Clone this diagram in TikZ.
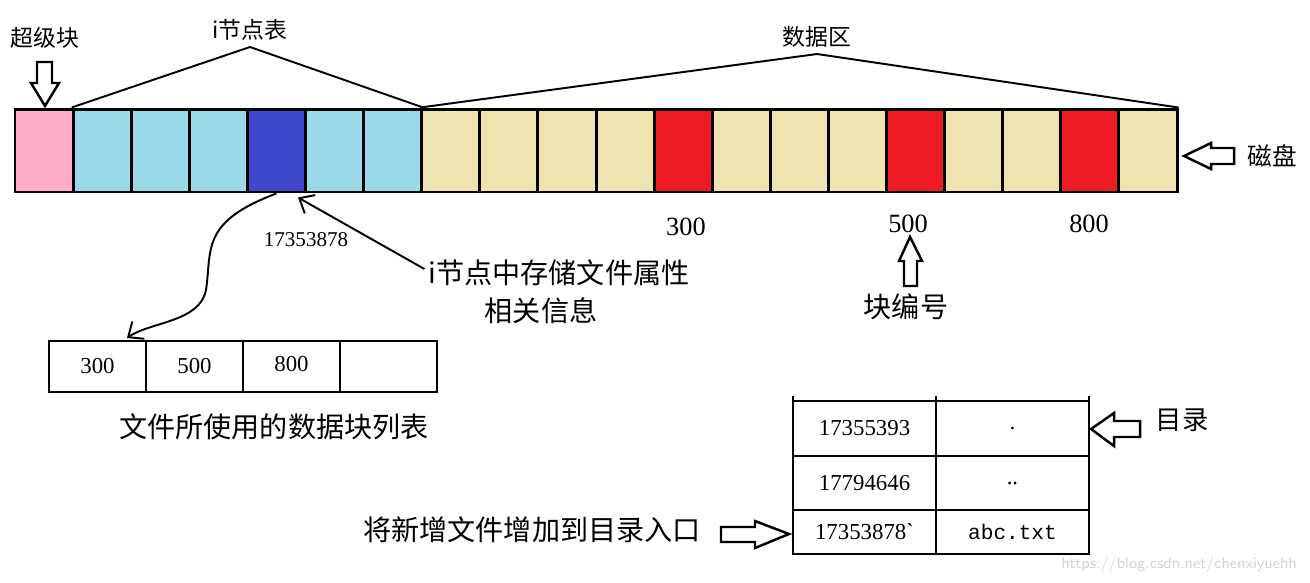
\documentclass[tikz,border=0pt]{standalone}
\usepackage{fontspec}
\setmainfont{Liberation Serif}
\setmonofont{Liberation Mono}
\newfontfamily\cjk{Noto Sans CJK SC}
\usetikzlibrary{arrows.meta, positioning, calc}
\definecolor{superColor}{HTML}{FFAEC9}
\definecolor{inodeColor}{HTML}{99D9EA}
\definecolor{curColor}{HTML}{3F48CC}
\definecolor{dataColor}{HTML}{EFE4B0}
\definecolor{usedColor}{HTML}{ED1C24}

\tikzset{
  cell/.style={draw, line width=1.7pt, minimum width=1.162cm, minimum height=1.66cm, inner sep=0pt},
  lcell/.style={draw, line width=1.6pt, outer sep=0pt, minimum width=1.94cm, minimum height=1.02cm, inner sep=0pt, font=\fontsize{13}{15}\selectfont},
  dcell/.style={draw, line width=1.6pt, outer sep=0pt, inner sep=0pt, font=\fontsize{13}{15}\selectfont},
  fatarr/.style={draw, line width=1.4pt, fill=white, line join=miter},
  span/.style={line width=1.1pt},
  conn/.style={line width=1.1pt, -{Straight Barb[length=7pt, width=12pt]}},
  cn/.style={font=\cjk\fontsize{16}{18}\selectfont},
  cnsmall/.style={font=\cjk\fontsize{13}{15}\selectfont},
}

\begin{document}
\begin{tikzpicture}[x=0.02cm, y=-0.02cm]
    \useasboundingbox (0,0) rectangle (1310,582);

    % Disk strip
    \foreach \col [count=\i from 0] in {superColor, inodeColor, inodeColor, inodeColor, curColor, inodeColor, inodeColor,
        dataColor, dataColor, dataColor, dataColor, usedColor, dataColor, dataColor, dataColor, usedColor,
        dataColor, dataColor, usedColor, dataColor}
        \node[cell, fill=\col] (c\i) at ({15+58.1*(\i+0.5)}, 150.5) {};

    % Spans over the strip
    \coordinate (inodeTop) at (250,47);
    \coordinate (dataTop) at (817,54);
    \draw[span] (c1.north west) -- (inodeTop) -- (c6.north east);
    \draw[span] (c7.north west) -- (dataTop) -- (c19.north east);
    \node[cnsmall, above=0pt of inodeTop] (lblInode) {i节点表};
    \node[cnsmall, above=0pt of dataTop] (lblData) {数据区};
    \node[cnsmall] (lblSuper) at (45,38) {超级块};

    % Hollow arrows
    \draw[fatarr] (37,62) -- (52,62) -- (52,83) -- (59,83) -- (45,106) -- (31,83) -- (37,83) -- cycle;
    \draw[fatarr] (1234,148) -- (1211,148) -- (1211,143) -- (1184,156) -- (1211,169) -- (1211,164) -- (1234,164) -- cycle;
    \draw[fatarr] (904,286) -- (904,261) -- (899,261) -- (910,237) -- (922,261) -- (917,261) -- (917,286) -- cycle;
    \node[cnsmall, font=\cjk\fontsize{14}{16}\selectfont] (lblDisk) at (1272,156) {磁盘};

    % Block numbers
    \node[font=\fontsize{15}{17}\selectfont] (n300) at (686,227) {300};
    \node[font=\fontsize{15}{17}\selectfont] (n500) at (908,224) {500};
    \node[font=\fontsize{15}{17}\selectfont] (n800) at (1089,224) {800};
    \node[cn] (lblBlockNo) at (906,307) {块编号};

    % Inode notes
    \node[font=\fontsize{12}{14}\selectfont] (inodeNum) at (306,240) {17353878};
    \node[cn] (attr) at (559,273) {i节点中存储文件属性};
    \node[cn] (attr2) at (541,311) {相关信息};

    % Block list of the file
    \node[lcell] (l1) at (97.5,366.5) {300};
    \node[lcell, right=0pt of l1] (l2) {500};
    \node[lcell, right=0pt of l2] (l3) {\raisebox{3pt}{800}};
    \node[lcell, right=0pt of l3] (l4) {};
    \node[cn] (lstLbl) at (274,427) {文件所使用的数据块列表};

    \draw[conn] (c4.south) .. controls (200,222) and (212,250) .. (206,290)
        .. controls (200,322) and (150,322) .. ($(l1.north east)+(-19,-3)$);
    \draw[conn] ($(attr.west)+(2,-4)$) -- ($(c4.south east)+(-9,4)$);

    % Directory
    \node[dcell, minimum width=2.86cm, minimum height=1.1cm] (d11) at (864.5,428.5) {17355393};
    \node[dcell, minimum width=3.06cm, minimum height=1.1cm, right=0pt of d11] (d12) {.};
    \node[dcell, minimum width=2.86cm, minimum height=1.08cm, below=0pt of d11] (d21) {17794646};
    \node[dcell, minimum width=3.06cm, minimum height=1.08cm, right=0pt of d21] (d22) {..};
    \node[dcell, minimum width=2.86cm, minimum height=0.88cm, below=0pt of d21] (d31) {17353878\textasciigrave};
    \node[dcell, minimum width=3.06cm, minimum height=0.88cm, right=0pt of d31, font=\ttfamily\fontsize{12}{14}\selectfont] (d32) {abc.txt};
    \draw[line width=1.6pt] (d11.north west) -- ++(0,-5);
    \draw[line width=1.6pt] (d11.north east) -- ++(0,-5);
    \draw[line width=1.6pt] (d12.north east) -- ++(0,-5);

    \draw[fatarr] (1140,421) -- (1114,421) -- (1114,413) -- (1091,429) -- (1114,446) -- (1114,437) -- (1140,437) -- cycle;
    \node[cn, font=\cjk\fontsize{15}{17}\selectfont] (dirLbl) at (1182,420) {目录};
    \draw[fatarr] (721,527) -- (755,527) -- (755,521) -- (789,534) -- (755,548) -- (755,542) -- (721,542) -- cycle;
    \node[cn] (entryLbl) at (532,530) {将新增文件增加到目录入口};

    \node[anchor=east, text=gray!35, font=\sffamily\fontsize{9}{11}\selectfont] (mark) at (1303,565) {https://blog.csdn.net/chenxiyuehh};
\end{tikzpicture}
\end{document}
